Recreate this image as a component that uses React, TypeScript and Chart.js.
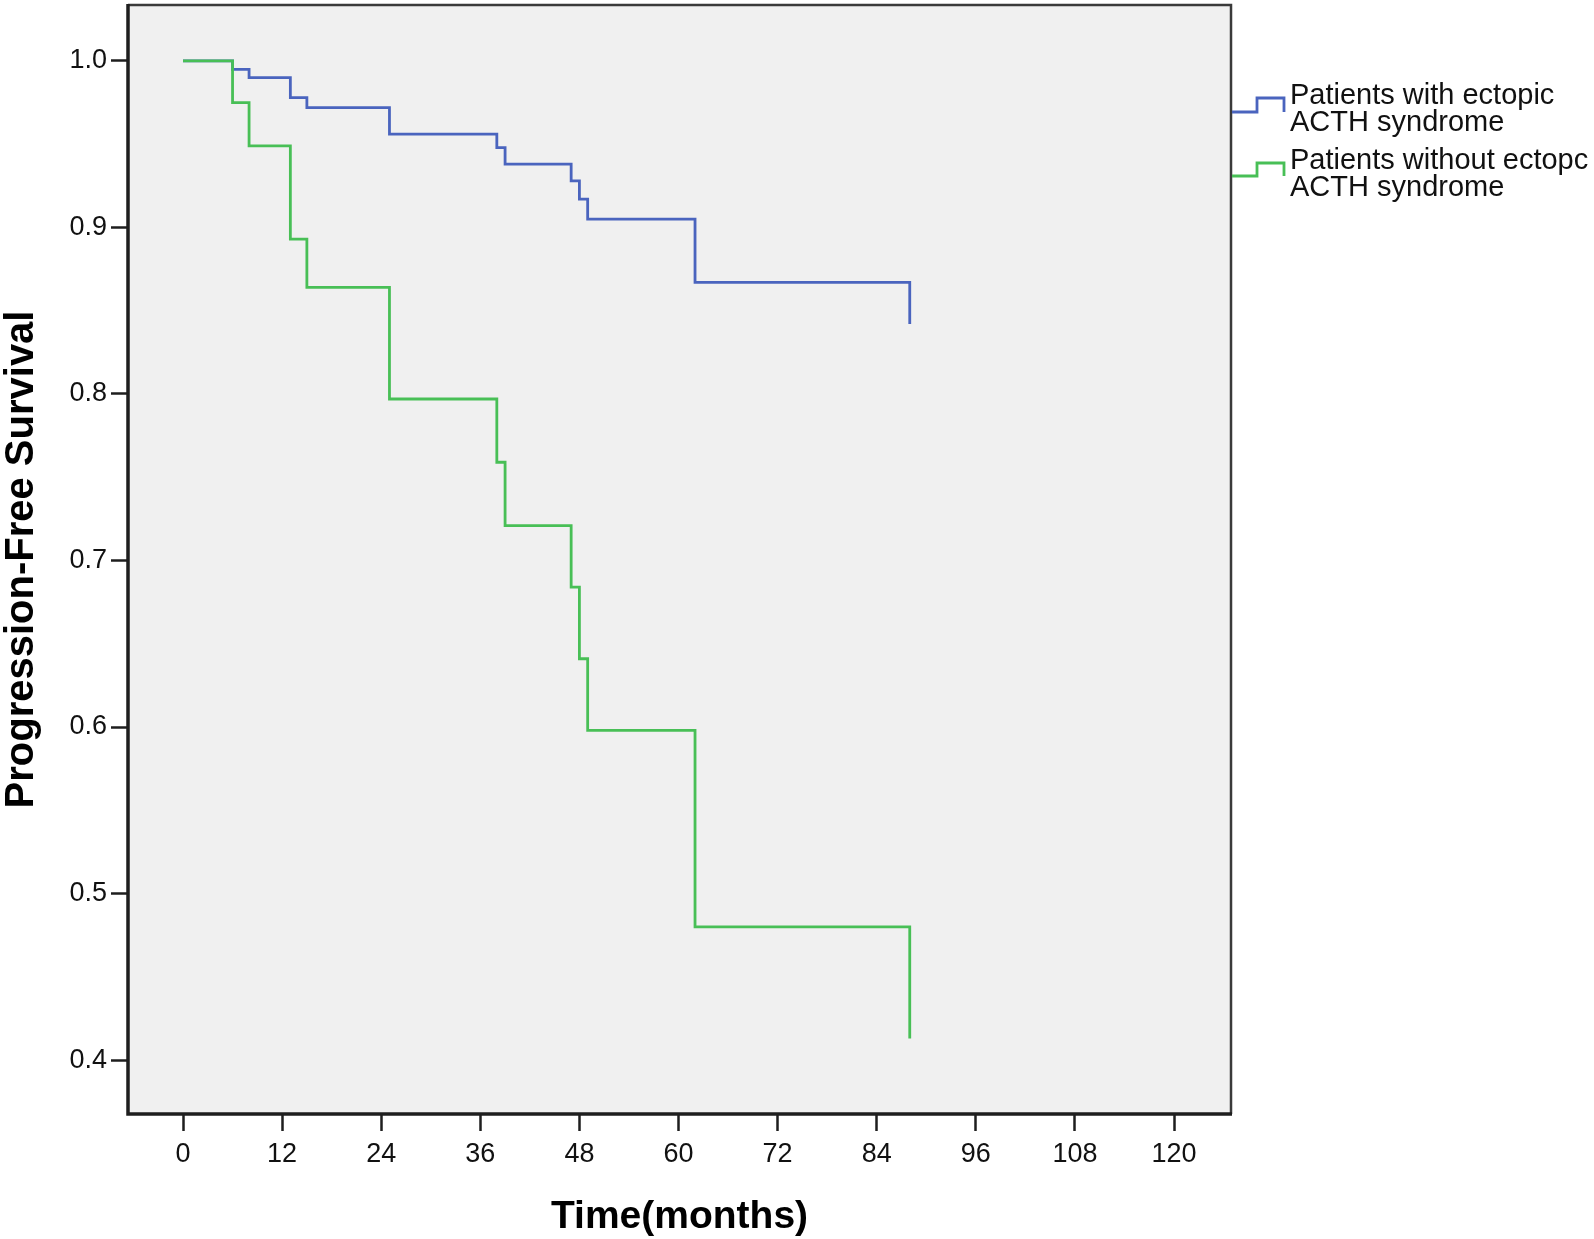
import React, { useEffect, useRef } from "react";
import { Chart, registerables } from "chart.js";

Chart.register(...registerables);

// ---- data ----
const xTicks = [0, 12, 24, 36, 48, 60, 72, 84, 96, 108, 120];
const yTicks = [0.4, 0.5, 0.6, 0.7, 0.8, 0.9, 1.0];

const ectopicTimes = [0, 6, 8, 13, 15, 25, 38, 39, 47, 48, 49, 62, 88];
const ectopicSurvival = [1.0, 0.995, 0.99, 0.978, 0.972, 0.956, 0.948, 0.938, 0.928, 0.917, 0.905, 0.867, 0.842];

const nonEctopicTimes = [0, 6, 8, 13, 15, 25, 38, 39, 47, 48, 49, 62, 88];
const nonEctopicSurvival = [1.0, 0.975, 0.949, 0.893, 0.864, 0.797, 0.759, 0.721, 0.684, 0.641, 0.598, 0.48, 0.413];

const ectopicLabel = ["Patients with ectopic", "ACTH syndrome"];
const nonEctopicLabel = ["Patients without ectopc", "ACTH syndrome"];

const xTitle = "Time(months)";
const yTitle = "Progression-Free Survival";

const BLUE = "#4A64BE";
const GREEN = "#48BF56";
const FONT = "'Liberation Sans', Arial, sans-serif";

const decorPlugin = {
  id: "decor",
  beforeDraw(chart: any) {
    const { ctx, chartArea: a } = chart;
    ctx.save();
    ctx.fillStyle = "#ffffff";
    ctx.fillRect(0, 0, chart.width, chart.height);
    ctx.fillStyle = "#F0F0F0";
    ctx.fillRect(a.left, a.top, a.right - a.left, a.bottom - a.top);
    ctx.restore();
  },
  afterDraw(chart: any) {
    const { ctx, chartArea: a } = chart;
    ctx.save();
    // frame: top & right thinner
    ctx.strokeStyle = "#3a3a3a";
    ctx.lineWidth = 2.5;
    ctx.beginPath();
    ctx.moveTo(a.left, a.top);
    ctx.lineTo(a.right, a.top);
    ctx.lineTo(a.right, a.bottom);
    ctx.stroke();
    // left & bottom thicker
    ctx.strokeStyle = "#1e1e1e";
    ctx.lineWidth = 3.5;
    ctx.beginPath();
    ctx.moveTo(a.left, a.top - 1);
    ctx.lineTo(a.left, a.bottom);
    ctx.lineTo(a.right + 1, a.bottom);
    ctx.stroke();

    // legend
    const entries = [
      { color: BLUE, lines: ectopicLabel, base: 112, top: 98, text: [104, 131] },
      { color: GREEN, lines: nonEctopicLabel, base: 176, top: 163, text: [169, 196] },
    ];
    ctx.lineWidth = 2.8;
    ctx.lineJoin = "miter";
    for (const e of entries) {
      ctx.strokeStyle = e.color;
      ctx.beginPath();
      ctx.moveTo(a.right + 1, e.base);
      ctx.lineTo(a.right + 26, e.base);
      ctx.lineTo(a.right + 26, e.top);
      ctx.lineTo(a.right + 53, e.top);
      ctx.lineTo(a.right + 53, e.base);
      ctx.stroke();
      ctx.fillStyle = "#111111";
      ctx.font = `29px ${FONT}`;
      ctx.textAlign = "left";
      ctx.textBaseline = "alphabetic";
      e.lines.forEach((t, i) => ctx.fillText(t, a.right + 59, e.text[i]));
    }

    // axis titles
    ctx.fillStyle = "#000000";
    ctx.font = `bold 39px ${FONT}`;
    ctx.textAlign = "center";
    ctx.textBaseline = "alphabetic";
    ctx.fillText(xTitle, (a.left + a.right) / 2, 1228);
    ctx.save();
    ctx.translate(33, (a.top + a.bottom) / 2);
    ctx.rotate(-Math.PI / 2);
    ctx.font = `bold 40px ${FONT}`;
    ctx.fillText(yTitle, 0, 0);
    ctx.restore();
    ctx.restore();
  },
};

export default function App() {
  const ref = useRef<HTMLCanvasElement | null>(null);

  useEffect(() => {
    if (!ref.current) return;
    const toPts = (ts: number[], ss: number[]) => ts.map((t, i) => ({ x: t, y: ss[i] }));
    const chart = new Chart(ref.current, {
      type: "line",
      data: {
        datasets: [
          {
            label: ectopicLabel.join(" "),
            data: toPts(ectopicTimes, ectopicSurvival),
            borderColor: BLUE,
            borderWidth: 2.8,
            stepped: "before",
            pointRadius: 0,
            fill: false,
            order: 1,
            borderJoinStyle: "miter",
          },
          {
            label: nonEctopicLabel.join(" "),
            data: toPts(nonEctopicTimes, nonEctopicSurvival),
            borderColor: GREEN,
            borderWidth: 2.8,
            stepped: "before",
            pointRadius: 0,
            fill: false,
            order: 0,
            borderJoinStyle: "miter",
          },
        ],
      },
      options: {
        animation: false,
        responsive: false,
        devicePixelRatio: 1,
        layout: { padding: { top: 5, right: 363, left: 0, bottom: 0 } },
        plugins: { legend: { display: false }, tooltip: { enabled: false } },
        scales: {
          x: {
            type: "linear",
            min: -6.66,
            max: 126.9,
            afterBuildTicks: (s: any) => {
              s.ticks = xTicks.map((v) => ({ value: v }));
            },
            afterFit: (s: any) => {
              s.height = 125;
              s.paddingLeft = 0;
              s.paddingRight = 0;
            },
            ticks: {
              autoSkip: false,
              maxRotation: 0,
              padding: 7,
              color: "#111111",
              font: { family: FONT, size: 27 },
              callback: (v: any) => String(v),
            },
            grid: {
              drawOnChartArea: false,
              drawTicks: true,
              tickLength: 17,
              tickWidth: 2.5,
              tickColor: "#1e1e1e",
            },
            border: { display: false },
          },
          y: {
            type: "linear",
            min: 0.3676,
            max: 1.0336,
            afterBuildTicks: (s: any) => {
              s.ticks = yTicks.map((v) => ({ value: v }));
            },
            afterFit: (s: any) => {
              s.width = 128;
              s.paddingTop = 0;
              s.paddingBottom = 0;
            },
            ticks: {
              autoSkip: false,
              padding: 4,
              color: "#111111",
              font: { family: FONT, size: 27 },
              callback: (v: any) => Number(v).toFixed(1),
            },
            grid: {
              drawOnChartArea: false,
              drawTicks: true,
              tickLength: 17,
              tickWidth: 2.5,
              tickColor: "#1e1e1e",
            },
            border: { display: false },
          },
        },
      },
      plugins: [decorPlugin],
    } as any);
    return () => chart.destroy();
  }, []);

  return (
    <div style={{ position: "fixed", left: 0, top: 0, width: 1594, height: 1239, background: "#fff" }}>
      <canvas ref={ref} width={1594} height={1239} style={{ display: "block", width: 1594, height: 1239 }} />
    </div>
  );
}
